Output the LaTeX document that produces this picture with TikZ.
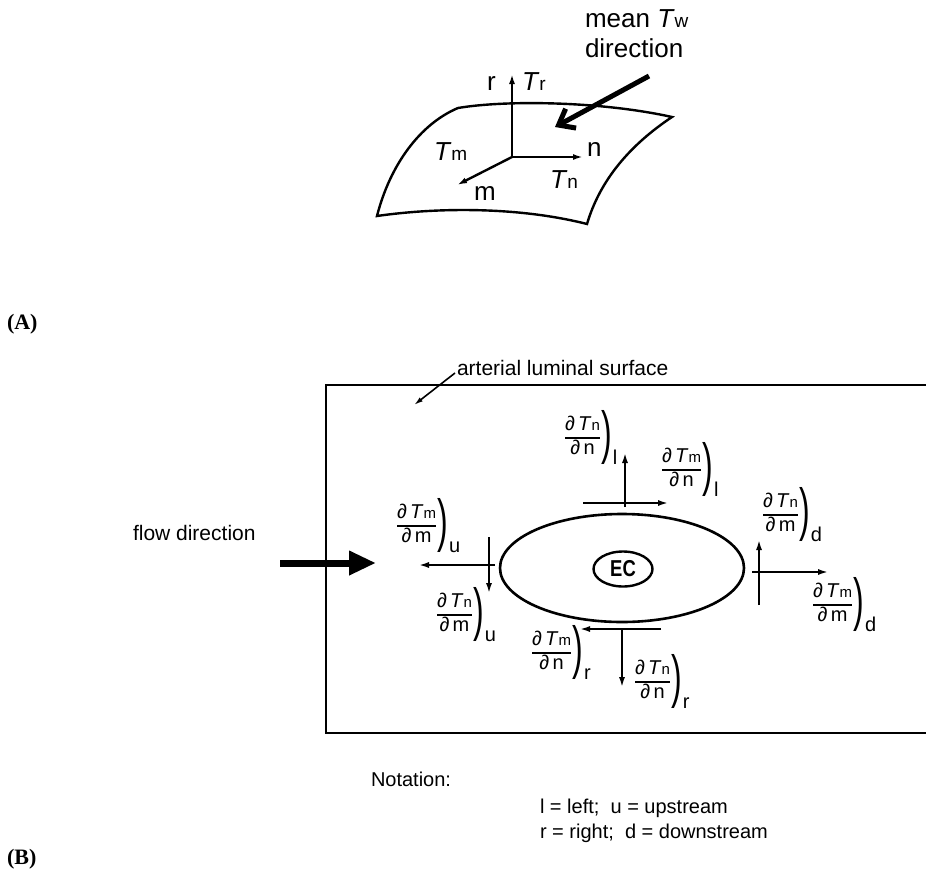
\documentclass[tikz,border=0pt]{standalone}
\usepackage{fontspec}
\setmainfont{Liberation Sans}
\newfontfamily\serifb{Liberation Serif}
\usetikzlibrary{arrows.meta,shapes.geometric}
\newcommand{\TA}[1]{\textit{T}{\fontsize{19}{19}\selectfont #1}}
\newcommand{\TB}[1]{\textit{T}{\fontsize{15}{15}\selectfont #1}}
\newcommand{\pdr}[3]{$\vcenter{\hbox{\setlength\arrayrulewidth{1.6pt}\renewcommand\arraystretch{0.95}\begin{tabular}{@{}c@{}}∂\,\TB{#1}\\\hline ∂\,#2\end{tabular}}}\mkern1mu\vcenter{\hbox{\scalebox{0.55}[1]{\fontsize{58}{58}\selectfont )}}}\mkern1mu\raisebox{-21pt}{#3}$}
\begin{document}
\begin{tikzpicture}[x=1pt,y=-1pt,
  every node/.style={inner sep=0pt, outer sep=0pt},
  lbl/.style={anchor=base west, font=\fontsize{21}{25}\selectfont},
  albl/.style={anchor=base west, font=\fontsize{26}{30}\selectfont},
  fr/.style={anchor=base west, font=\fontsize{20}{24}\selectfont},
  plbl/.style={anchor=base west, font=\serifb\bfseries\fontsize{22}{26}\selectfont},
  surf/.style={line width=2.4pt},
  axarrow/.style={line width=2.4pt, -{Latex[length=10pt,width=6pt]}},
  tharrow/.style={line width=2.4pt, -{Latex[length=11pt,width=6pt]}},
 ]
\useasboundingbox (0,0) rectangle (926,873);

% ---------- Part A ----------
\draw[surf] (458,108) .. controls (505,100) and (600,101) .. (672,117)
  .. controls (630,145) and (600,180) .. (587,224)
  .. controls (520,207) and (440,207) .. (377,216)
  .. controls (390,165) and (420,124) .. (458,108) -- cycle;

\coordinate (O) at (512,157);
\coordinate (rE) at (512,74);
\coordinate (nE) at (583,157);
\coordinate (mE) at (457,185);
\draw[axarrow] (O) -- (rE);
\draw[axarrow] (O) -- (nE);
\draw[axarrow] (O) -- (mE);

\node[albl] (lr) at (487,90) {r};
\node[albl] (lTr) at (522,90) {\TA{r}};
\node[albl] (lTm) at (434,160) {\TA{m}};
\node[albl] (ln) at (587,156) {n};
\node[albl] (lTn) at (550,188) {\TA{n}};
\node[albl] (lm) at (474,200) {m};

\node[albl] (mean) at (585,27) {mean \TA{w}};
\node[albl] (dir) at (585,57) {direction};
\coordinate (wS) at (649,76);
\coordinate (wE) at (555,127);
\draw[line width=5pt, -{Straight Barb[length=14pt,width=22pt]}] (wS) -- (wE);

\node[plbl] (labA) at (7,329) {(A)};

% ---------- Part B ----------
\draw[line width=2.5pt] (930,385) -- (326,385) -- (326,733) -- (930,733);

\node[lbl] (art) at (457,375) {arterial luminal surface};
\coordinate (aS) at (455,373);
\coordinate (aE) at (414,405);
\draw[line width=1.6pt, -{Latex[length=9pt,width=5pt]}] (aS) -- (aE);

\node[lbl] (flow) at (133,540) {flow direction};
\coordinate (fS) at (280,563);
\coordinate (fE) at (376,563);
\draw[line width=7pt, -{Triangle[length=27pt,width=23pt]}] (fS) -- (fE);

\node[ellipse, draw, line width=2.6pt, minimum width=244pt, minimum height=108pt] (cell) at (622,568) {};
\node[ellipse, draw, line width=2.4pt, minimum width=59pt, minimum height=35pt,
      font=\bfseries\fontsize{23}{23}\selectfont] (ec) at (623,569) {\scalebox{0.8}[1]{EC}};

% top
\coordinate (t1) at (583,503); \coordinate (t2) at (669,503);
\coordinate (t3) at (625,507); \coordinate (t4) at (625,452);
\draw[tharrow] (t1) -- (t2);
\draw[tharrow] (t3) -- (t4);
% left
\coordinate (l1) at (489,537); \coordinate (l2) at (489,594);
\coordinate (l3) at (495,565); \coordinate (l4) at (418,565);
\draw[tharrow] (l1) -- (l2);
\draw[tharrow] (l3) -- (l4);
% bottom
\coordinate (b1) at (661,629); \coordinate (b2) at (579,629);
\coordinate (b3) at (622,628); \coordinate (b4) at (622,688);
\draw[tharrow] (b1) -- (b2);
\draw[tharrow] (b3) -- (b4);
% right
\coordinate (r1) at (759,605); \coordinate (r2) at (759,539);
\coordinate (r3) at (752,572); \coordinate (r4) at (829,572);
\draw[tharrow] (r1) -- (r2);
\draw[tharrow] (r3) -- (r4);

% fraction labels
\node[fr] (f1) at (565,443) {\pdr{n}{n}{l}};
\node[fr] (f2) at (662,475) {\pdr{m}{n}{l}};
\node[fr] (f3) at (763,520) {\pdr{n}{m}{d}};
\node[fr] (f4) at (813,610) {\pdr{m}{m}{d}};
\node[fr] (f5) at (397,531) {\pdr{m}{m}{u}};
\node[fr] (f6) at (437,620) {\pdr{n}{m}{u}};
\node[fr] (f7) at (532,658) {\pdr{m}{n}{r}};
\node[fr] (f8) at (635,687) {\pdr{n}{n}{r}};

% notation
\node[lbl, font=\fontsize{20}{24}\selectfont] (not) at (371,786) {Notation:};
\node[lbl, font=\fontsize{20}{24}\selectfont] (n1) at (540,813) {l = left;\ \ u = upstream};
\node[lbl, font=\fontsize{20}{24}\selectfont] (n2) at (540,838) {r = right;\ \ d = downstream};

\node[plbl] (labB) at (7,864) {(B)};
\end{tikzpicture}
\end{document}
